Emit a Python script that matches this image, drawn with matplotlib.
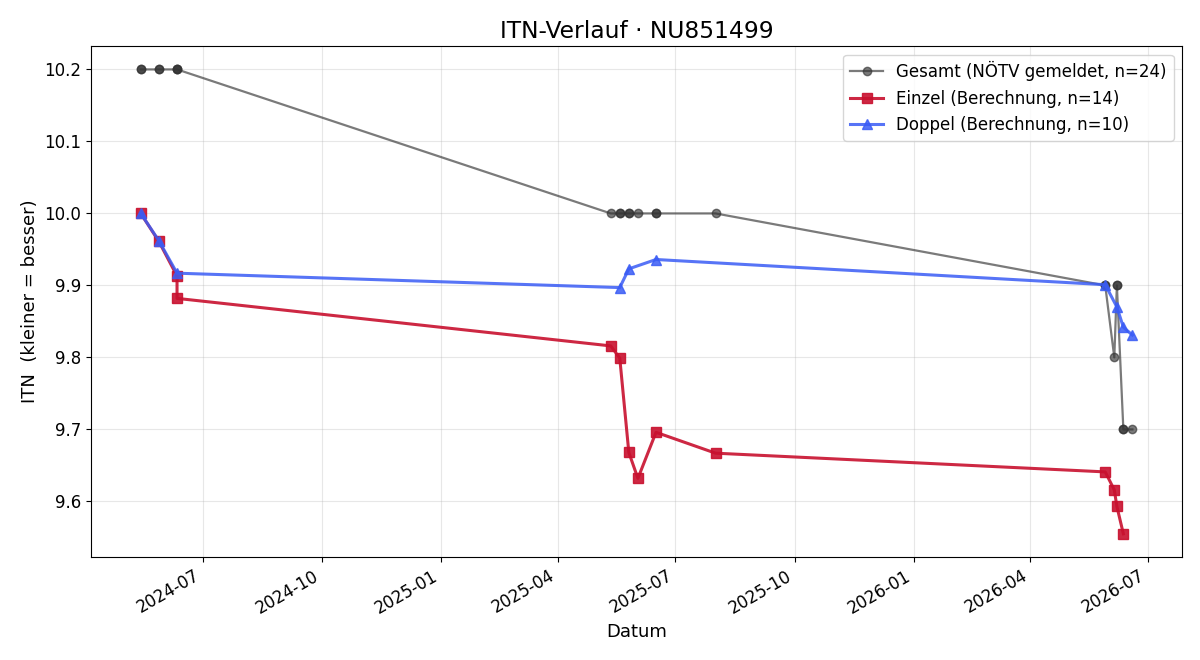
import matplotlib
matplotlib.use("Agg")
import matplotlib.pyplot as plt
import matplotlib.dates as mdates
import pandas as pd

# Gesamt (NÖTV gemeldet)
gesamt_dates = ["2024-05-14", "2024-05-14", "2024-05-28", "2024-05-28", "2024-06-11", "2024-06-11", "2024-06-11",
                "2025-05-12", "2025-05-19", "2025-05-19", "2025-05-26", "2025-05-26", "2025-06-02",
                "2025-06-16", "2025-06-16", "2025-08-01",
                "2026-05-29", "2026-05-29", "2026-06-05", "2026-06-07", "2026-06-07",
                "2026-06-12", "2026-06-12", "2026-06-19"]
gesamt_itn = [10.2, 10.2, 10.2, 10.2, 10.2, 10.2, 10.2,
              10.0, 10.0, 10.0, 10.0, 10.0, 10.0,
              10.0, 10.0, 10.0,
              9.9, 9.9, 9.8, 9.9, 9.9,
              9.7, 9.7, 9.7]

# Einzel (Berechnung)
einzel_dates = ["2024-05-14", "2024-05-28", "2024-06-11", "2024-06-11",
                "2025-05-12", "2025-05-19", "2025-05-26", "2025-06-02", "2025-06-16", "2025-08-01",
                "2026-05-29", "2026-06-05", "2026-06-07", "2026-06-12"]
einzel_itn = [10.0, 9.961, 9.913, 9.882,
              9.816, 9.799, 9.668, 9.632, 9.696, 9.667,
              9.641, 9.616, 9.593, 9.555]

# Doppel (Berechnung)
doppel_dates = ["2024-05-14", "2024-05-28", "2024-06-11",
                "2025-05-19", "2025-05-26", "2025-06-16",
                "2026-05-29", "2026-06-07", "2026-06-12", "2026-06-19"]
doppel_itn = [10.0, 9.962, 9.917,
              9.897, 9.923, 9.936,
              9.901, 9.870, 9.842, 9.831]

fig, ax = plt.subplots(figsize=(12, 6.6), dpi=100)

ax.plot(pd.to_datetime(gesamt_dates), gesamt_itn, 'o-', color='#333333', alpha=0.65,
        linewidth=1.6, markersize=6, label=f'Gesamt (NÖTV gemeldet, n={len(gesamt_itn)})')
ax.plot(pd.to_datetime(einzel_dates), einzel_itn, 's-', color='#c8102e', alpha=0.9,
        linewidth=2.2, markersize=7, label=f'Einzel (Berechnung, n={len(einzel_itn)})')
ax.plot(pd.to_datetime(doppel_dates), doppel_itn, '^-', color='#3a5cf5', alpha=0.85,
        linewidth=2.2, markersize=7, label=f'Doppel (Berechnung, n={len(doppel_itn)})')

ax.set_title('ITN-Verlauf · NU851499', fontsize=16.8)
ax.set_xlabel('Datum', fontsize=13)
ax.set_ylabel('ITN  (kleiner = besser)', fontsize=13)
ax.tick_params(labelsize=12)
ax.grid(True, alpha=0.3)
ax.legend(loc='upper right', fontsize=12)
ax.xaxis.set_major_locator(mdates.MonthLocator(bymonth=[1, 4, 7, 10]))
ax.xaxis.set_major_formatter(mdates.DateFormatter('%Y-%m'))
fig.autofmt_xdate()

fig.subplots_adjust(left=0.076, right=0.985, top=0.930, bottom=0.156)
plt.savefig('out.png')
